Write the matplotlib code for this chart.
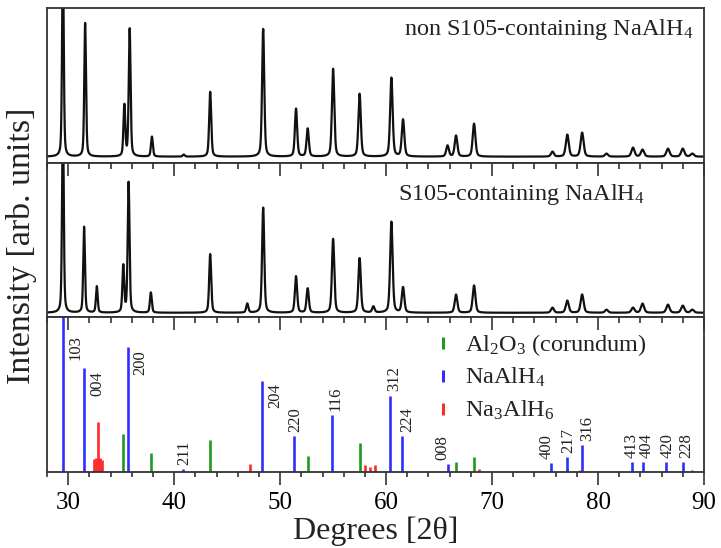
import numpy as np
import matplotlib
matplotlib.use("Agg")
import matplotlib.pyplot as plt
from matplotlib.ticker import MultipleLocator

plt.rcParams["font.family"] = ["Liberation Serif", "DejaVu Serif"]
plt.rcParams["mathtext.fontset"] = "custom"
plt.rcParams["mathtext.rm"] = "Liberation Serif"
plt.rcParams["mathtext.it"] = "Liberation Serif:italic"

# --- XRD pattern of NaAlH4 without S105 (peak centres in degrees 2theta, heights in arb. units)
plain_pos = [29.5, 31.6, 35.3, 35.8, 37.9, 40.9, 43.4, 48.4, 51.5, 52.6, 55.0, 57.5,
             60.5, 61.6, 65.8, 66.6, 68.3, 75.7, 77.1, 78.5, 80.8, 83.3, 84.2, 86.6,
             88.0, 88.9]
plain_int = [200, 134, 51, 128, 20, 2, 65, 128, 48, 28, 88, 63,
             79, 37, 11, 21, 33, 5, 22, 24, 3, 9, 7, 8,
             8, 3]

# --- XRD pattern of S105-containing NaAlH4
s105_pos = [29.5, 31.5, 32.7, 35.2, 35.7, 37.8, 43.4, 46.9, 48.4, 51.5, 52.6, 55.0,
            57.5, 58.8, 60.5, 61.6, 66.6, 68.3, 75.7, 77.1, 78.5, 80.8, 83.3, 84.2,
            86.6, 88.0, 88.9]
s105_int = [200, 85, 26, 46, 129, 20, 58, 9, 104, 36, 24, 73,
            54, 6, 90, 25, 18, 27, 5, 12, 18, 3, 5, 9,
            8, 7, 3]

# --- Reference reflections
al2o3_pos = [35.2, 37.8, 43.4, 52.6, 57.5, 66.6, 68.3, 77.1, 88.9]
al2o3_int = [38, 19, 32, 16, 29, 10, 15, 3, 2]

naalh4_pos = [29.5, 31.5, 35.6, 40.8, 48.3, 51.3, 54.9, 60.4, 61.5, 65.8, 75.6, 77.1,
              78.5, 83.2, 84.2, 86.4, 88.0]
naalh4_int = [170, 105, 126, 3, 92, 36, 57, 77, 36, 8, 9, 15,
              27, 10, 10, 10, 10]
naalh4_hkl = ["103", "004", "200", "211", "204", "220", "116", "312", "224", "008",
              "400", "217", "316", "413", "404", "420", "228"]

na3alh6_pos = [32.4, 32.6, 32.8, 33.0, 33.2, 47.2, 58.0, 58.5, 59.0, 68.8, 78.3]
na3alh6_int = [13, 14, 50, 14, 12, 8, 7, 5, 7, 3, 2]

phase_names = ["Al$_2$O$_3$ (corundum)", "NaAlH$_4$", "Na$_3$AlH$_6$"]
phase_colors = ["#1f9a1f", "#2f2fff", "#ff2a2a"]

# tall reflections carry their index to the right of the stick
label_beside = {"103", "004", "200", "204"}
# sideways nudges (points) for indices written above their stick
label_nudge = {"008": -3.5, "400": -3.5, "224": 3.5, "316": 3.5, "413": -0.5,
               "404": 3.0, "116": 2.5, "312": 2.5, "228": 2.5}


def pattern(theta, centres, heights):
    """Sum of pseudo-Voigt peaks whose width grows slowly with angle."""
    y = np.zeros_like(theta)
    for c, h in zip(centres, heights):
        fwhm = 0.18 + 0.003 * (c - 28)
        g = np.exp(-4 * np.log(2) * ((theta - c) / fwhm) ** 2)
        l = 1.0 / (1.0 + 4 * ((theta - c) / fwhm) ** 2)
        y += h * (0.6 * g + 0.4 * l)
    return y


theta = np.linspace(28, 90, 8001)

fig = plt.figure(figsize=(7.21, 5.48), dpi=100)
gs = fig.add_gridspec(3, 1, left=0.0652, right=0.9764, top=0.9854, bottom=0.1387,
                      hspace=0)
ax_top = fig.add_subplot(gs[0])
ax_mid = fig.add_subplot(gs[1])
ax_bot = fig.add_subplot(gs[2])

frame_color = "#333333"


def style_frame(ax):
    for sp in ax.spines.values():
        sp.set_linewidth(1.3)
        sp.set_color(frame_color)
    ax.set_yticks([])
    ax.set_xlim(28, 90)
    ax.xaxis.set_major_locator(MultipleLocator(10))
    ax.xaxis.set_minor_locator(MultipleLocator(2))


def inward_top_ticks(ax):
    ax.tick_params(axis="x", which="both", top=True, bottom=False, direction="in",
                   labeltop=False, labelbottom=False, color=frame_color, width=1.2)
    ax.tick_params(axis="x", which="major", length=9)
    ax.tick_params(axis="x", which="minor", length=4.5)


for ax in (ax_top, ax_mid, ax_bot):
    style_frame(ax)

# diffraction patterns
ax_top.plot(theta, pattern(theta, plain_pos, plain_int), color="#111111", lw=1.6)
ax_top.set_ylim(-6, 149)
ax_top.tick_params(axis="x", which="both", bottom=False, top=False,
                   labelbottom=False)
ax_top.text(0.983, 0.826, "non S105-containing NaAlH$_4$", transform=ax_top.transAxes,
            ha="right", va="baseline", fontsize=17.5, color="#222222")

ax_mid.plot(theta, pattern(theta, s105_pos, s105_int), color="#111111", lw=1.6)
ax_mid.set_ylim(-4.5, 148.5)
inward_top_ticks(ax_mid)
ax_mid.text(0.534, 0.758, "S105-containing NaAlH$_4$", transform=ax_mid.transAxes,
            ha="left", va="baseline", fontsize=17.5, color="#222222")

# reference sticks
ymax_bot = 156
ax_bot.set_ylim(0, ymax_bot)
for pos, ints, col in ((al2o3_pos, al2o3_int, phase_colors[0]),
                       (naalh4_pos, naalh4_int, phase_colors[1]),
                       (na3alh6_pos, na3alh6_int, phase_colors[2])):
    ax_bot.vlines(pos, 0, ints, colors=col, lw=1.9)

for pos, h, hkl in zip(naalh4_pos, naalh4_int, naalh4_hkl):
    if hkl in label_beside:
        top = min(h, 0.9 * ymax_bot)
        ax_bot.annotate(hkl, (pos, top), xytext=(3.5, -2), textcoords="offset points",
                        rotation=90, ha="left", va="top", fontsize=12,
                        color="#222222")
    else:
        ax_bot.annotate(hkl, (pos, h), xytext=(label_nudge.get(hkl, 1.0), 3),
                        textcoords="offset points", rotation=90, ha="center",
                        va="bottom", fontsize=12, color="#222222")

ax_bot.set_xticks([30, 40, 50, 60, 70, 80, 90])
ax_bot.tick_params(axis="x", which="both", top=False, bottom=True, direction="out",
                   color=frame_color, width=1.2, labelsize=18, pad=5)
ax_bot.tick_params(axis="x", which="major", length=9.5)
ax_bot.tick_params(axis="x", which="minor", length=3.5)

# inward ticks along the upper edge of the stick panel
ax_twin = ax_bot.twiny()
ax_twin.set_xlim(28, 90)
ax_twin.xaxis.set_major_locator(MultipleLocator(10))
ax_twin.xaxis.set_minor_locator(MultipleLocator(2))
inward_top_ticks(ax_twin)
for sp in ax_twin.spines.values():
    sp.set_visible(False)

# phase key
for i, (name, col) in enumerate(zip(phase_names, phase_colors)):
    yb = 0.782 - i * 0.2115
    ax_bot.plot([0.603], [yb + 0.05], transform=ax_bot.transAxes, marker="|",
                markersize=9, mew=2.2, color=col, linestyle="none")
    ax_bot.text(0.636, yb, name, transform=ax_bot.transAxes, ha="left",
                va="baseline", fontsize=17.5, color="#222222")

ax_bot.set_xlabel("Degrees [2θ]", fontsize=23, labelpad=2, color="#222222")
fig.text(0.03, 0.551, "Intensity [arb. units]", rotation=90, ha="center", va="center",
         fontsize=24.5, color="#222222")

fig.savefig("out.png", dpi=100)
